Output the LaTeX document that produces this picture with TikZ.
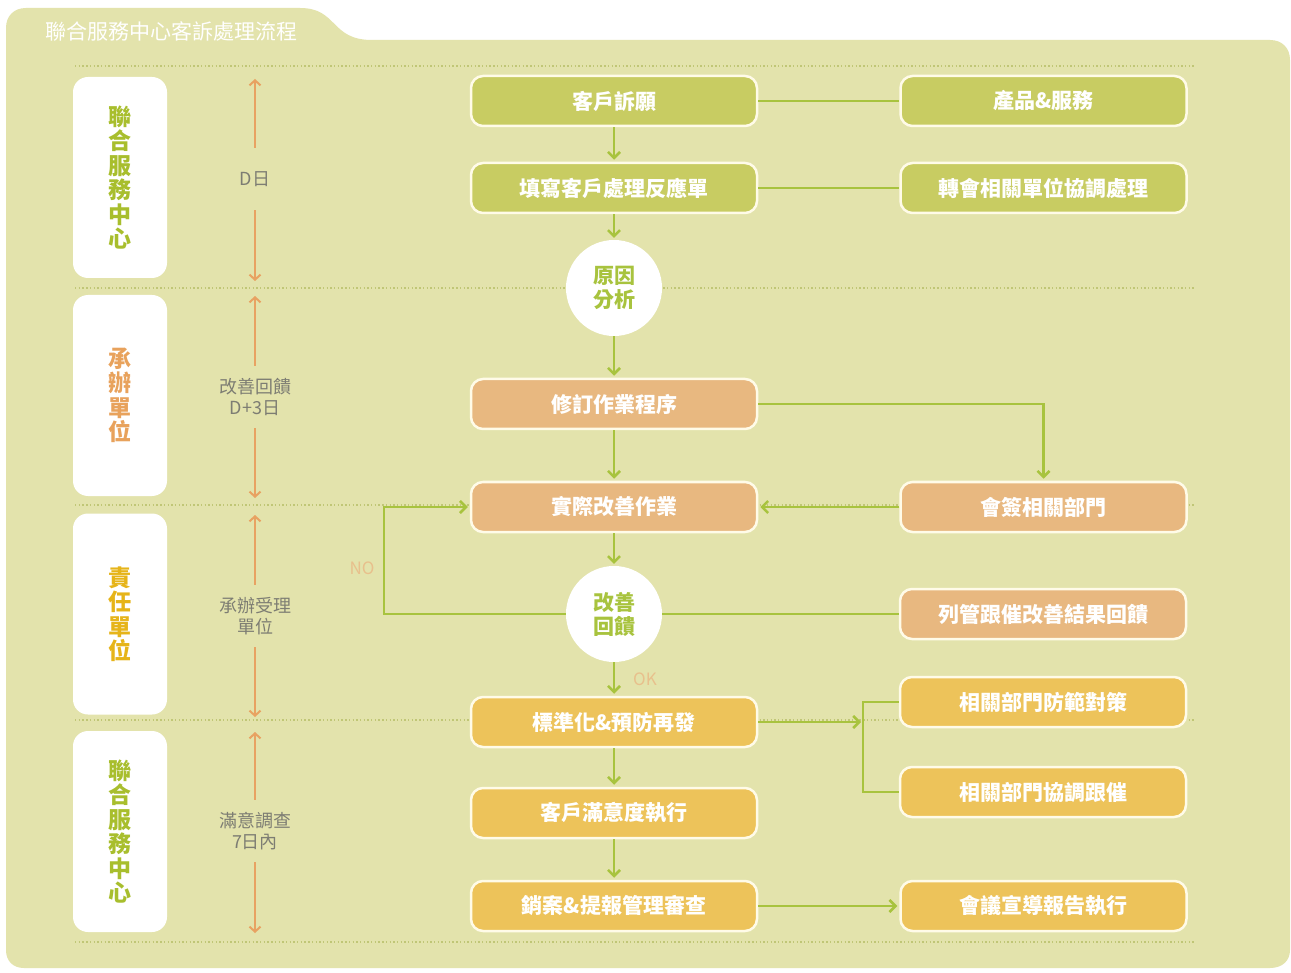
\documentclass[tikz,border=0pt]{standalone}
\usepackage{fontspec}
\setmainfont{Noto Sans CJK TC}
\usetikzlibrary{arrows.meta,positioning,calc}
\definecolor{panel}{RGB}{227,227,172}
\definecolor{olivebox}{RGB}{200,204,98}
\definecolor{orangebox}{RGB}{232,184,128}
\definecolor{goldbox}{RGB}{237,195,90}
\definecolor{boxline}{RGB}{255,251,232}
\definecolor{linkgreen}{RGB}{168,195,62}
\definecolor{timeorange}{RGB}{232,162,98}
\definecolor{timegray}{RGB}{125,125,115}
\definecolor{dotcolor}{RGB}{192,198,118}
\definecolor{lanegreen}{RGB}{168,190,45}
\definecolor{laneorange}{RGB}{232,162,92}
\definecolor{lanegold}{RGB}{230,180,25}
\definecolor{tagcolor}{RGB}{232,192,140}
\tikzset{
	box/.style={draw=boxline, line width=2.5pt, rounded corners=12pt, minimum width=286pt, minimum height=50pt, inner sep=0pt, text=white, font=\fontsize{21}{24}\selectfont\bfseries},
	olive/.style={box, fill=olivebox},
	orng/.style={box, fill=orangebox},
	gold/.style={box, fill=goldbox},
	check/.style={circle, fill=white, minimum size=96pt, inner sep=0pt, align=center, text=linkgreen, font=\fontsize{21}{24}\selectfont\bfseries},
	lane/.style={fill=white, rounded corners=15pt, minimum width=94pt, minimum height=201pt, inner sep=0pt, align=center, font=\fontsize{23}{24.5}\selectfont\bfseries},
	timetext/.style={minimum height=62pt, inner sep=0pt, align=center, text=timegray, font=\fontsize{18}{21}\selectfont},
	timearrow/.style={draw=timeorange, line width=2pt, -{Straight Barb[length=5pt,width=11pt]}},
	link/.style={draw=linkgreen, line width=2.5pt},
	->/.style={-{Straight Barb[length=6pt,width=12pt]}, shorten >=2pt},
	tag/.style={text=tagcolor, font=\fontsize{17}{18}\selectfont},
	sepline/.style={draw=dotcolor, line width=1.6pt, dash pattern=on 1.4pt off 2.3pt},
}
\begin{document}
\begin{tikzpicture}[x=1pt,y=-1pt]
	\fill[white] (0,0) rectangle (1291,973);
	\useasboundingbox (0,0) rectangle (1291,973);
	% panel with tab
	\fill[panel] (6,28) .. controls (6,16) and (14,8) .. (26,8) -- (300,8) .. controls (338,8) and (330,40) .. (372,40) -- (1270,40) .. controls (1282,40) and (1290,48) .. (1290,60) -- (1290,950) .. controls (1290,961) and (1282,968) .. (1270,968) -- (24,968) .. controls (13,968) and (6,961) .. (6,950) -- cycle;
	\node[anchor=west, text=white, font=\fontsize{21}{24}\selectfont] (title) at (42,32) {聯合服務中心客訴處理流程};
	\foreach \y in {66,288,505,720,942}
		\draw[sepline] (75,\y) -- (1195,\y);
	% lanes
	\node[lane, text=lanegreen] (l1) at (120,177.5) {聯\\合\\服\\務\\中\\心};
	\node[lane, text=laneorange] (l2) at (120,395.5) {承\\辦\\單\\位};
	\node[lane, text=lanegold] (l3) at (120,614) {責\\任\\單\\位};
	\node[lane, text=lanegreen] (l4) at (120,831.5) {聯\\合\\服\\務\\中\\心};
	% time line
	\node[timetext] (t1) at (255,179) {D日};
	\node[timetext] (t2) at (255,397) {改善回饋\\D+3日};
	\node[timetext] (t3) at (255,616) {承辦受理\\單位};
	\node[timetext] (t4) at (255,831) {滿意調查\\7日內};
	\draw[timearrow] (t1.north) -- (255,79); \draw[timearrow] (t1.south) -- (255,281);
	\draw[timearrow] (t2.north) -- (255,296); \draw[timearrow] (t2.south) -- (255,498);
	\draw[timearrow] (t3.north) -- (255,515); \draw[timearrow] (t3.south) -- (255,717);
	\draw[timearrow] (t4.north) -- (255,732); \draw[timearrow] (t4.south) -- (255,933);
	% main column
	\node[olive] (kh) at (614,101) {客戶訴願};
	\node[olive] (tx) at (614,188) {填寫客戶處理反應單};
	\node[check] (yy) at (614,288) {原因\\分析};
	\node[orng] (xd) at (614,404) {修訂作業程序};
	\node[orng] (sj) at (614,507) {實際改善作業};
	\node[check] (gs) at (614,614) {改善\\回饋};
	\node[gold] (bz) at (614,722) {標準化\&預防再發};
	\node[gold] (my) at (614,813) {客戶滿意度執行};
	\node[gold] (xa) at (614,906) {銷案\&提報管理審查};
	% right column
	\node[olive, right=141pt of kh] (cp) {產品\&服務};
	\node[olive, right=141pt of tx] (zh) {轉會相關單位協調處理};
	\node[orng, right=141pt of sj] (hq) {會簽相關部門};
	\node[orng] (lg) at (1043,614) {列管跟催改善結果回饋};
	\node[gold] (ff) at (1043,702) {相關部門防範對策};
	\node[gold] (xt) at (1043,792) {相關部門協調跟催};
	\node[gold, right=141pt of xa] (hy) {會議宣導報告執行};
	\coordinate (fork) at (863,722);
	\node[tag] (no) at (362,568) {NO};
	\node[tag] (ok) at (645,679) {OK};
	% connectors
	\draw[link] (kh) -- (cp);
	\draw[link] (tx) -- (zh);
	\draw[link,->] (kh) -- (tx);
	\draw[link,->] (tx) -- (yy);
	\draw[link,->] (yy) -- (xd);
	\draw[link,->] (xd) -| (hq);
	\draw[link,->] (xd) -- (sj);
	\draw[link,->] (hq) -- (sj);
	\draw[link,->] (sj) -- (gs);
	\draw[link] (gs) -- (lg);
	\draw[link,->] (gs.west) -- ++(-182,0) |- (sj.west);
	\draw[link,->] (gs) -- (bz);
	\draw[link,->] (bz.east) -- (fork);
	\draw[link] (ff.west) -| (fork) |- (xt.west);
	\draw[link,->] (bz) -- (my);
	\draw[link,->] (my) -- (xa);
	\draw[link,->] (xa) -- (hy);
\end{tikzpicture}
\end{document}
